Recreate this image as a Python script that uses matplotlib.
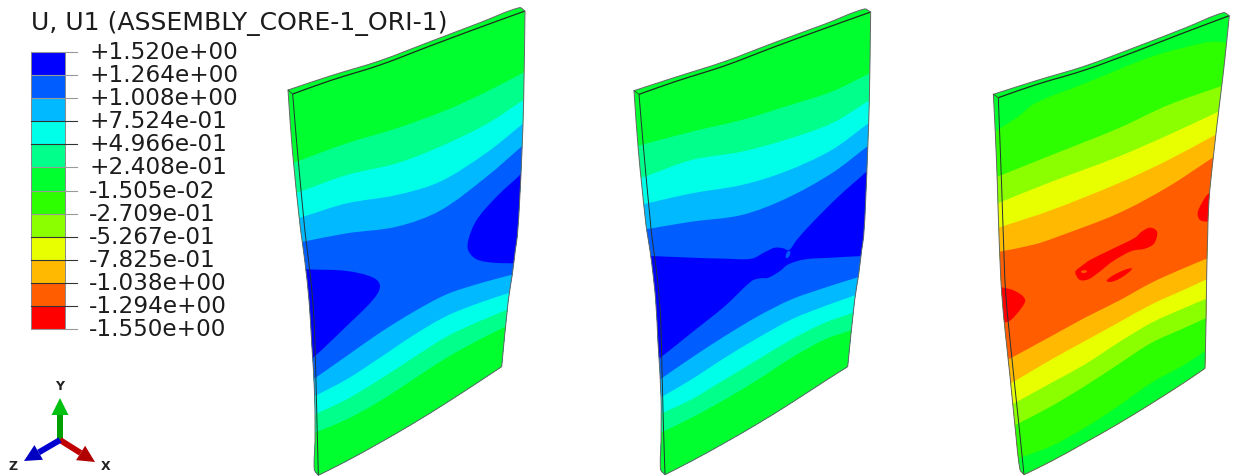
import numpy as np
import matplotlib
matplotlib.use("Agg")
import matplotlib.pyplot as plt
from matplotlib.path import Path
from matplotlib.patches import PathPatch, Polygon

W, H = 1233, 476
TITLE = "U, U1 (ASSEMBLY_CORE-1_ORI-1)"
LEVEL_LABELS = ["+1.520e+00", "+1.264e+00", "+1.008e+00", "+7.524e-01", "+4.966e-01", "+2.408e-01",
                "-1.505e-02", "-2.709e-01", "-5.267e-01", "-7.825e-01", "-1.038e+00", "-1.294e+00", "-1.550e+00"]
BAND_COLORS = ["#0000ff", "#005dff", "#00b9ff", "#00ffe8", "#00ff8b", "#00ff2e",
               "#2eff00", "#8bff00", "#e8ff00", "#ffb900", "#ff5d00", "#ff0000"]
BLUE, MBLUE, LBLUE, CYAN, MINT, GREEN, LIME, YGREEN, YELLOW, ORANGE, DORANGE, RED = BAND_COLORS

# Each shape: (points in upper tile, points in lower tile)
P1_UP, P1_LOW = (280, 0), (280, 236)
P1_OUTER_L = [(24, 270), (37, 450), (60, 675), (66, 720)], [(75, 80), (87, 192), (95, 320), (104, 480), (105, 620), (103, 700), (115, 718)]
P1_INNER_L = [(38, 282), (52, 450), (73, 675), (78, 720)], [(90, 110), (98, 192), (102, 250), (107, 400), (111, 560), (115, 718)]
P1_RIGHT = [(735, 33), (731, 300), (726, 450), (719, 600), (712, 708)], [(706, 42), (697, 115), (685, 192), (665, 392)]
P1_BOTTOM = [(665, 392), (600, 435), (500, 500), (400, 562), (300, 620), (200, 675), (115, 718)]
P1_TOP = [(24, 270), (150, 228), (300, 182), (450, 125), (600, 68), (718, 23), (735, 33)]
P1_TOP_IN = [(38, 282), (150, 242), (300, 195), (450, 138), (600, 82), (735, 33)]
P1_B1 = [(50, 485), (200, 430), (350, 385), (500, 330), (620, 275), (730, 218)]
P1_B2 = [(60, 575), (200, 525), (350, 490), (480, 440), (620, 372), (730, 300)]
P1_B3 = [(70, 650), (200, 610), (350, 585), (480, 545), (620, 458), (730, 370)]
P1_B4 = [(70, 725), (200, 700), (350, 680), (480, 632), (620, 530), (730, 435)]
P1_L4 = [(100, 430), (200, 360), (300, 290), (400, 228), (500, 175), (600, 142), (700, 115)]
P1_L3 = [(105, 480), (200, 430), (300, 365), (400, 298), (500, 240), (600, 200), (690, 170)]
P1_L2 = [(105, 535), (200, 490), (300, 430), (400, 365), (500, 302), (600, 255), (680, 222)]
P1_L1 = [(105, 590), (200, 550), (300, 495), (400, 430), (500, 365), (600, 310), (670, 275)]
P1_DARK_R = [(800, 440), (730, 515), (650, 590), (590, 660), (565, 720), (565, 752), (590, 778), (640, 788), (712, 790), (800, 790)]
P1_DARK_L = [(30, 97), (85, 100), (200, 105), (280, 125), (300, 150), (280, 190), (200, 270), (105, 360), (30, 420)]

P2_UP, P2_LOW = (625, 0), (625, 236)
P2_OUTER_L = [(27, 272), (40, 450), (63, 675), (70, 720)], [(80, 80), (92, 192), (99, 320), (108, 480), (108, 620), (107, 700), (120, 716)]
P2_INNER_L = [(42, 283), (56, 450), (77, 675), (82, 720)], [(95, 110), (103, 192), (107, 250), (111, 400), (115, 560), (120, 716)]
P2_RIGHT = [(737, 36), (733, 300), (728, 450), (722, 600), (716, 708)], [(710, 42), (701, 115), (689, 192), (668, 392)]
P2_BOTTOM = [(668, 392), (600, 435), (500, 500), (400, 562), (300, 620), (200, 675), (120, 716)]
P2_TOP = [(27, 272), (150, 232), (300, 184), (450, 127), (600, 72), (718, 27), (737, 36)]
P2_TOP_IN = [(42, 283), (150, 245), (300, 197), (450, 140), (600, 85), (737, 36)]
P2_B1 = [(55, 433), (200, 395), (350, 360), (480, 320), (620, 275), (730, 222)]
P2_B2 = [(65, 528), (200, 480), (350, 455), (480, 420), (620, 370), (730, 303)]
P2_B3 = [(75, 608), (200, 580), (350, 555), (480, 515), (620, 450), (730, 370)]
P2_B4 = [(80, 685), (200, 665), (350, 645), (480, 597), (620, 520), (730, 437)]
P2_L4 = [(110, 427), (200, 365), (300, 300), (400, 240), (500, 190), (600, 155), (695, 125)]
P2_L3 = [(115, 480), (200, 430), (300, 365), (400, 305), (500, 250), (600, 210), (690, 178)]
P2_L2 = [(115, 530), (200, 490), (300, 430), (400, 370), (500, 310), (600, 260), (680, 232)]
P2_L1 = [(118, 585), (200, 545), (300, 490), (400, 430), (500, 365), (600, 310), (672, 285)]
P2_DARK = [(40, 58), (80, 60), (200, 65), (300, 68), (380, 68), (420, 48), (450, 35), (475, 37), (492, 42),
           (515, 12), (560, -38), (640, -118), (730, -198), (800, -265), (800, 58), (715, 60), (620, 65), (540, 70),
           (490, 85), (465, 105), (430, 125), (405, 127), (380, 135), (300, 210), (200, 290), (110, 362), (40, 415)]
P2_SPOT = [(483, 55), (490, 45), (496, 48), (492, 62), (484, 66)]

P3_UP, P3_LOW = (985, 0), (985, 236)
P3_OUTER_L = [(25, 283), (31, 400), (37, 550), (42, 708)], [(50, 170), (62, 300), (75, 420), (90, 570), (105, 700), (117, 716)]
P3_INNER_L = [(40, 293), (44, 400), (50, 560), (55, 708)], [(62, 170), (80, 360), (100, 550), (117, 716)]
P3_RIGHT = [(733, 47), (717, 200), (705, 300), (685, 470), (672, 600), (668, 708)], [(665, 120), (663, 260), (660, 397)]
P3_BOTTOM = [(660, 397), (600, 438), (500, 502), (400, 563), (300, 620), (200, 675), (117, 716)]
P3_TOP = [(25, 283), (150, 243), (300, 198), (450, 142), (600, 84), (715, 38), (733, 47)]
P3_TOP_IN = [(40, 293), (150, 255), (300, 210), (450, 155), (600, 97), (733, 47)]
P3_B0 = [(45, 385), (100, 350), (150, 310), (300, 250), (500, 170), (650, 130), (690, 125), (722, 128)]
P3_B1 = [(50, 525), (200, 465), (400, 385), (550, 315), (710, 258)]
P3_B2 = [(50, 605), (200, 545), (400, 470), (550, 405), (700, 335)]
P3_B3 = [(50, 680), (200, 630), (400, 550), (550, 480), (690, 405)]
P3_B4 = [(55, 753), (150, 733), (210, 713), (400, 640), (550, 560), (680, 475)]
P3_L4 = [(80, 365), (200, 300), (300, 245), (400, 195), (500, 140), (600, 95), (665, 68)]
P3_L3 = [(90, 435), (200, 370), (300, 315), (400, 260), (500, 205), (600, 160), (665, 130)]
P3_L2 = [(100, 495), (200, 440), (300, 385), (400, 320), (500, 260), (600, 215), (665, 188)]
P3_L1 = [(105, 560), (200, 510), (300, 450), (400, 385), (500, 320), (600, 275), (665, 245)]
P3_L0 = [(120, 660), (200, 630), (300, 575), (400, 510), (500, 440), (600, 385), (660, 345)]
P3_RED_R = [(720, 560), (672, 580), (650, 610), (638, 640), (645, 660), (668, 665), (720, 668)]
P3_RED_L = [(20, 153), (55, 155), (90, 165), (120, 190), (110, 215), (80, 250), (65, 258), (20, 258)]
P3_RED_C = [(272, 105), (290, 90), (315, 72), (380, 40), (450, 5), (470, -13), (495, -25), (515, -15), (515, 5),
            (505, 25), (480, 38), (440, 45), (385, 75), (340, 110), (310, 130), (285, 132), (272, 115)]
P3_RED_S = [(365, 133), (400, 110), (440, 97), (430, 110), (400, 130), (375, 138)]
P3_HOLE = [(288, 107), (297, 103), (306, 106), (297, 111)]

TRIAD_ORIGIN = (60, 440)
TRIAD_TIPS = dict(Y=(60, 398), X=(95, 462), Z=(24, 461))
TRIAD_LABEL_POS = dict(Y=(60, 386), X=(106, 466), Z=(13, 466))


def tile(pts, off):
    return np.asarray(pts, float) / 3 + np.asarray(off, float)


def two(parts, up, low):
    return np.vstack([tile(parts[0], up), tile(parts[1], low)])


def bez(p, closed=False):
    """Cubic Bezier control polygon with chord-scaled tangents (no overshoot on uneven spacing)."""
    n = len(p)
    tang = []
    for i in range(n):
        if closed:
            a, b = p[(i - 1) % n], p[(i + 1) % n]
        else:
            a, b = p[max(i - 1, 0)], p[min(i + 1, n - 1)]
        d = b - a
        tang.append(d / (np.linalg.norm(d) + 1e-9))
    v, c = [], []
    for i in range(n if closed else n - 1):
        j = (i + 1) % n
        L = np.linalg.norm(p[j] - p[i]) / 3
        v += [p[i] + tang[i] * L, p[j] - tang[j] * L, p[j]]
        c += [Path.CURVE4] * 3
    return v, c


def curve_path(p):
    v, c = bez(p)
    return Path([p[0]] + v, [Path.MOVETO] + c)


def ext(p, amount=25):
    d0 = p[0] - p[1]
    d1 = p[-1] - p[-2]
    return np.vstack([p[0] + d0 / np.linalg.norm(d0) * amount, p, p[-1] + d1 / np.linalg.norm(d1) * amount])


fig = plt.figure(figsize=(W / 100, H / 100), dpi=100)
ax = fig.add_axes([0, 0, 1, 1])
ax.set_xlim(0, W)
ax.set_ylim(H, 0)
ax.axis("off")


def band_below(p, color, clip, z):
    p = ext(p)
    v, c = bez(p)
    verts = [p[0]] + v + [(p[-1][0], H + 60), (p[0][0], H + 60), p[0]]
    codes = [Path.MOVETO] + c + [Path.LINETO, Path.LINETO, Path.CLOSEPOLY]
    pp = PathPatch(Path(verts, codes), fc=color, ec="none", lw=0, zorder=z)
    ax.add_patch(pp)
    pp.set_clip_path(clip)


def blob(p, color, clip, z, off):
    p = tile(p, off)
    v, c = bez(p, closed=True)
    pp = PathPatch(Path([p[0]] + v, [Path.MOVETO] + c), fc=color, ec="none", lw=0, zorder=z)
    ax.add_patch(pp)
    pp.set_clip_path(clip)


def panel(up, low, outer, inner, right, bottom, top, top_in, first, top_bands, bottom_bands, blobs):
    po = two(outer, up, low)
    pr = two(right, up, low)
    pb = tile(bottom, low)
    pt = tile(top, up)
    pi = two(inner, up, low)
    v1, c1 = bez(po)
    v2, c2 = bez(pb[::-1])
    v3, c3 = bez(pr[::-1])
    v4, c4 = bez(pt[::-1])
    sil = Path([po[0]] + v1 + v2 + v3 + v4, [Path.MOVETO] + c1 + c2 + c3 + c4)
    clip = PathPatch(sil, fc=first, ec="none", lw=0, zorder=2)
    ax.add_patch(clip)
    z = 3
    for pts, col in top_bands:
        band_below(tile(pts, up), col, clip, z)
        z += 1
    for pts, col in bottom_bands:
        band_below(tile(pts, low), col, clip, z)
        z += 1
    for pts, col, off in blobs:
        blob(pts, col, clip, z, off)
        z += 1
    ax.add_patch(PathPatch(curve_path(tile(top_in, up)), fc="none", ec="#1d2d1d", lw=0.9, zorder=40))
    ax.add_patch(PathPatch(curve_path(pi), fc="none", ec="#223333", lw=0.7, zorder=40))
    ax.add_patch(PathPatch(sil, fc="none", ec="#666666", lw=0.7, zorder=41))
    ax.plot([po[0][0], pi[0][0]], [po[0][1], pi[0][1]], color="#334433", lw=0.6, zorder=41)


panel(P1_UP, P1_LOW, P1_OUTER_L, P1_INNER_L, P1_RIGHT, P1_BOTTOM, P1_TOP, P1_TOP_IN, GREEN,
      [(P1_B1, MINT), (P1_B2, CYAN), (P1_B3, LBLUE), (P1_B4, MBLUE)],
      [(P1_L4, LBLUE), (P1_L3, CYAN), (P1_L2, MINT), (P1_L1, GREEN)],
      [(P1_DARK_R, BLUE, P1_UP), (P1_DARK_L, BLUE, P1_LOW)])
panel(P2_UP, P2_LOW, P2_OUTER_L, P2_INNER_L, P2_RIGHT, P2_BOTTOM, P2_TOP, P2_TOP_IN, GREEN,
      [(P2_B1, MINT), (P2_B2, CYAN), (P2_B3, LBLUE), (P2_B4, MBLUE)],
      [(P2_L4, LBLUE), (P2_L3, CYAN), (P2_L2, MINT), (P2_L1, GREEN)],
      [(P2_DARK, BLUE, P2_LOW), (P2_SPOT, MBLUE, P2_LOW)])
panel(P3_UP, P3_LOW, P3_OUTER_L, P3_INNER_L, P3_RIGHT, P3_BOTTOM, P3_TOP, P3_TOP_IN, GREEN,
      [(P3_B0, LIME), (P3_B1, YGREEN), (P3_B2, YELLOW), (P3_B3, ORANGE), (P3_B4, DORANGE)],
      [(P3_L4, ORANGE), (P3_L3, YELLOW), (P3_L2, YGREEN), (P3_L1, LIME), (P3_L0, GREEN)],
      [(P3_RED_R, RED, P3_UP), (P3_RED_L, RED, P3_LOW), (P3_RED_C, RED, P3_LOW),
       (P3_RED_S, RED, P3_LOW), (P3_HOLE, DORANGE, P3_LOW)])

# legend
n = len(BAND_COLORS)
ys = np.linspace(51.7, 329.3, n + 1)
bar_x0, bar_x1, tick_x = 30.7, 65, 76.5
for i, col in enumerate(BAND_COLORS):
    ax.fill([bar_x0, bar_x1, bar_x1, bar_x0], [ys[i], ys[i], ys[i + 1], ys[i + 1]], color=col, lw=0, zorder=5)
ax.plot([bar_x0, bar_x1, bar_x1, bar_x0, bar_x0], [ys[0], ys[0], ys[-1], ys[-1], ys[0]], color="#888888", lw=0.7, zorder=6)
for i, (y, lab) in enumerate(zip(ys, LEVEL_LABELS)):
    tone = "#999999" if i in (0, 1, 2, 5, 6, 7, 12) else "#333333"
    ax.plot([bar_x0, tick_x], [y, y], color=tone, lw=0.8, zorder=7)
    ax.text(89, y - 2, lab, fontsize=16.7, color="#1c1c1c", va="center_baseline", ha="left", family="DejaVu Sans")
ax.text(31, 21, TITLE, fontsize=18.1, color="#1c1c1c", va="center_baseline", ha="left", family="DejaVu Sans")


# triad
def arrow(label, shaft, head):
    o = np.array(TRIAD_ORIGIN, float)
    t = np.array(TRIAD_TIPS[label], float)
    d = (t - o) / np.linalg.norm(t - o)
    nrm = np.array([-d[1], d[0]])
    L = np.linalg.norm(t - o)
    hb = o + d * (L - 17)
    ax.add_patch(Polygon([o + nrm * 3, hb + nrm * 3, hb - nrm * 3, o - nrm * 3], fc=shaft, ec="none", zorder=8))
    ax.add_patch(Polygon([hb + nrm * 8.5, t, hb - nrm * 8.5], fc=head, ec="none", zorder=9))
    lx, ly = TRIAD_LABEL_POS[label]
    ax.text(lx, ly, label, fontsize=9, fontweight="bold", color="#222222", ha="center", va="center")


arrow("Y", "#00a000", "#00c010")
arrow("X", "#c00000", "#b00000")
arrow("Z", "#0000d0", "#0000c0")

fig.savefig("out.png", dpi=100)
